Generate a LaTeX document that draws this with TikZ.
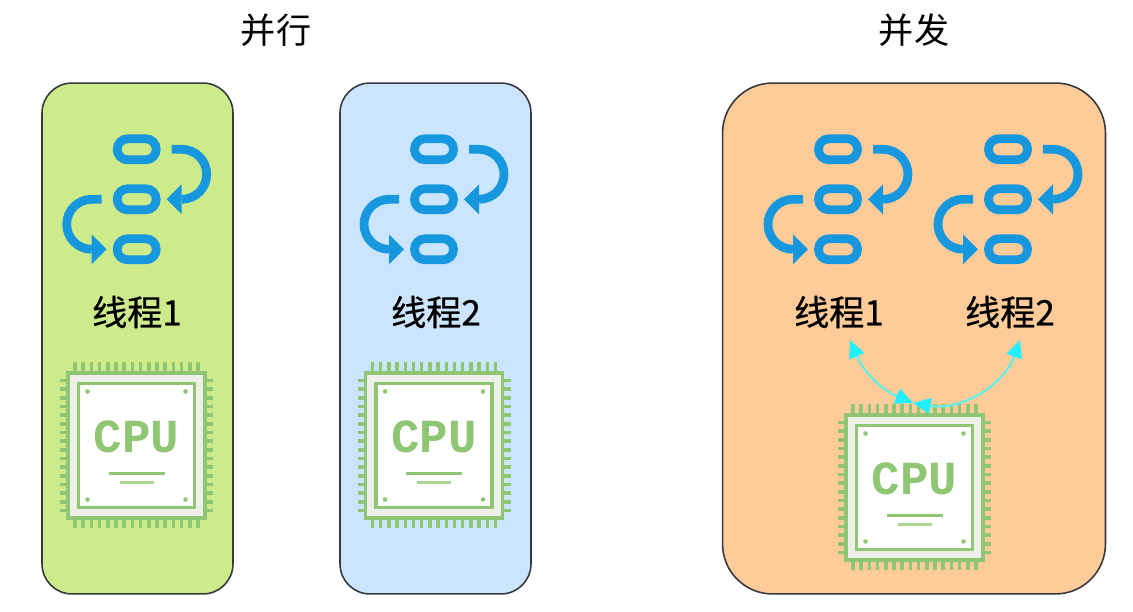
\documentclass[tikz,border=0pt]{standalone}
\usepackage{fontspec}
\usetikzlibrary{arrows.meta}
\newfontfamily\cjkfont{Noto Sans CJK SC}
\newfontfamily\cjkmedfont[FakeBold=0.6]{Noto Sans CJK SC}
\setmonofont{Liberation Mono}
\definecolor{panelgreen}{HTML}{CDEB8B}
\definecolor{panelblue}{HTML}{CCE5FF}
\definecolor{panelorange}{HTML}{FFCC99}
\definecolor{threadblue}{HTML}{1797DD}
\definecolor{chipgreen}{HTML}{8FC673}
\definecolor{chipshell}{HTML}{EFEFE9}
\definecolor{edgegray}{HTML}{36393D}
\definecolor{synccyan}{HTML}{22F0FF}
\definecolor{syncline}{HTML}{66EEE0}
\tikzset{
  panel/.style={draw=edgegray,line width=0.9pt,rounded corners=#1,inner sep=0pt,outer sep=0pt},
  titletext/.style={font=\cjkfont\fontsize{20}{24}\selectfont,text=black},
  threadtext/.style={font=\cjkmedfont\fontsize{20}{24}\selectfont,text=black},
  syncarrow/.style={{Triangle[length=10pt,width=9pt,color=synccyan]}-{Triangle[length=10pt,width=9pt,color=synccyan]},draw=syncline,line width=1.3pt},
  threadicon/.pic={
    % three ovals, two bent arrows
    \foreach \oy in {50,0,-50} {
      \draw[threadblue,line width=5pt,rounded corners=5.9pt] (-19.5,\oy-10.5) rectangle (19.5,\oy+10.5);
    }
    \foreach \sx/\dy in {1/0,-1/-50} {
      \begin{scope}[shift={(0,\dy)},xscale=\sx]
        \draw[threadblue,line width=5pt] (35,50) -- (45,50) arc[start angle=90,end angle=-90,radius=25];
        \fill[threadblue] (30,0) -- (45,15) -- (45,-15) -- cycle;
      \end{scope}
    }
  },
  cpuchip/.pic={
    \foreach \k in {0,...,15} {
      \draw[chipgreen,line width=2pt] (-61.5+\k*8.2,72) -- ++(0,11);
      \draw[chipgreen,line width=2pt] (-61.5+\k*8.2,-72) -- ++(0,-11);
      \draw[chipgreen,line width=2pt] (68,-65+\k*8.67) -- ++(8.5,0);
      \draw[chipgreen,line width=2pt] (-68,-65+\k*8.67) -- ++(-8.5,0);
    }
    \draw[chipgreen,fill=chipshell,line width=1.8pt] (-68.5,-72.5) rectangle (68.5,72.5);
    \draw[chipgreen,fill=white,line width=1.8pt] (-58,-62) rectangle (58,62);
    \foreach \dx in {-49,49} {
      \foreach \dy in {-54,54} {
        \fill[chipgreen] (\dx,\dy) circle[radius=2.3];
      }
    }
    \node[text=chipgreen,font=\ttfamily\bfseries\fontsize{27}{28}\selectfont,inner sep=0pt] (-word) at (0,9) {CPU};
    \draw[chipgreen,line width=1.3pt] (-28,-28) -- (28,-28);
    \draw[chipgreen!75,line width=1.2pt] (-17,-37) -- (17,-37);
  }
}
\begin{document}
\begin{tikzpicture}[x=0.02cm,y=0.02cm]
  \useasboundingbox (0,0) rectangle (1133,612);
  \node[panel=0.6cm,fill=panelgreen,minimum width=3.82cm,minimum height=10.22cm] (panelA) at (137.5,273.5) {};
  \node[panel=0.6cm,fill=panelblue,minimum width=3.82cm,minimum height=10.22cm] (panelB) at (435.5,273.5) {};
  \node[panel=1cm,fill=panelorange,minimum width=7.66cm,minimum height=10.22cm] (panelC) at (914,273.5) {};
  \node[titletext] (titleA) at (276,582) {并行};
  \node[titletext] (titleC) at (914,582) {并发};
  \pic (iconA) at (136.7,412.7) {threadicon};
  \pic (iconB) at (434,412.7) {threadicon};
  \pic (iconC) at (838,412.7) {threadicon};
  \pic (iconD) at (1008,412.7) {threadicon};
  \node[threadtext] (threadA) at (137,300) {线程1};
  \node[threadtext] (threadB) at (436,300) {线程2};
  \node[threadtext] (threadC) at (839,300) {线程1};
  \node[threadtext] (threadD) at (1010,300) {线程2};
  \pic (cpuA) at (136.5,166.5) {cpuchip};
  \pic (cpuB) at (434,166.5) {cpuchip};
  \pic (cpuC) at (914.5,124.5) {cpuchip};
  \coordinate (syncA) at (850,272);
  \coordinate (syncB) at (1020,272);
  \coordinate (syncC) at (913,209);
  \draw[syncarrow] (syncA) to[bend right=22] (syncC);
  \draw[syncarrow] (syncB) to[bend left=40] (syncC);
\end{tikzpicture}
\end{document}
